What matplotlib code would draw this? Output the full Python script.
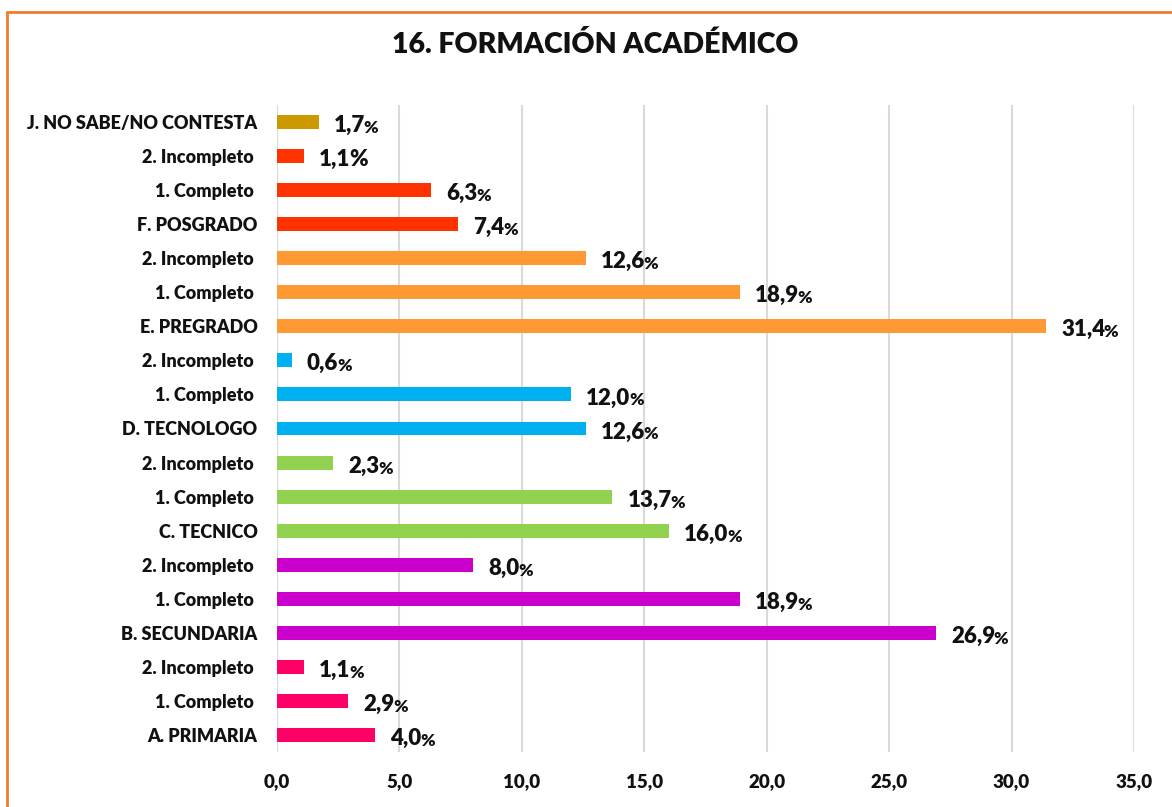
import matplotlib.pyplot as plt
from matplotlib.patches import Rectangle

plt.rcParams['font.family'] = ['Lato', 'DejaVu Sans']
plt.rcParams['font.weight'] = 'heavy'

# data, bottom to top
labels = ["A. PRIMARIA", "1. Completo ", "2. Incompleto ",
          "B. SECUNDARIA", "1. Completo ", "2. Incompleto ",
          "C. TECNICO", "1. Completo ", "2. Incompleto ",
          "D. TECNOLOGO", "1. Completo ", "2. Incompleto ",
          "E. PREGRADO", "1. Completo ", "2. Incompleto ",
          "F. POSGRADO", "1. Completo ", "2. Incompleto ",
          "J. NO SABE/NO CONTESTA"]
values = [4.0, 2.9, 1.1,
          26.9, 18.9, 8.0,
          16.0, 13.7, 2.3,
          12.6, 12.0, 0.6,
          31.4, 18.9, 12.6,
          7.4, 6.3, 1.1,
          1.7]
group_colors = ["#FF0066", "#CC00CC", "#92D050", "#00B0F0", "#FF9933", "#FF3300"]
colors = [c for c in group_colors for _ in range(3)] + ["#CC9900"]
xticks = [0, 5, 10, 15, 20, 25, 30, 35]

W = "heavy"
fig = plt.figure(figsize=(11.72, 8.07), dpi=100)
ax = fig.add_axes([277 / 1172, 1 - 752 / 807, 857 / 1172, 647 / 807])

y = list(range(len(values)))
ax.barh(y, values, height=0.41, color=colors, zorder=3)

for yi, v in zip(y, values):
    num = ax.annotate(f"{v:.1f}".replace(".", ","), xy=(v, yi), xytext=(11, -2.5),
                      textcoords="offset points", va="center", ha="left",
                      fontsize=16, fontweight=W, color="#111111")
    # the second "1,1" from the top has its % at full size in the original
    pct_size = 16 if yi == len(values) - 2 else 12.5
    ax.annotate("%", xy=(1, 0), xycoords=num, xytext=(-1, 0), textcoords="offset points",
                va="bottom", ha="left", fontsize=pct_size, fontweight=W, color="#111111")

ax.set_xlim(0, 35)
ax.set_ylim(-0.5, len(values) - 0.5)
ax.set_xticks(xticks)
ax.set_xticklabels([f"{t:.1f}".replace(".", ",") for t in xticks], fontsize=13.5, fontweight=W)
ax.set_yticks(y)
ax.set_yticklabels(labels, fontsize=13, fontweight=W)
ax.tick_params(axis="both", length=0, colors="#111111")
ax.tick_params(axis="x", pad=15)
ax.tick_params(axis="y", pad=14)
ax.grid(axis="x", color="#D9D9D9", linewidth=1.5, zorder=0)
for s in ax.spines.values():
    s.set_visible(False)

fig.text(0.508, 1 - 53 / 807, "16. FORMACIÓN ACADÉMICO", ha="center", va="baseline",
         fontsize=20.5, fontweight=W, color="#111111")

fig.patches.append(Rectangle((6.5 / 1172, -0.1), 1.2, 1.1 - 12.5 / 807, transform=fig.transFigure,
                             fill=False, edgecolor="#ED7D31", linewidth=2))

fig.savefig("out.png", dpi=100)
